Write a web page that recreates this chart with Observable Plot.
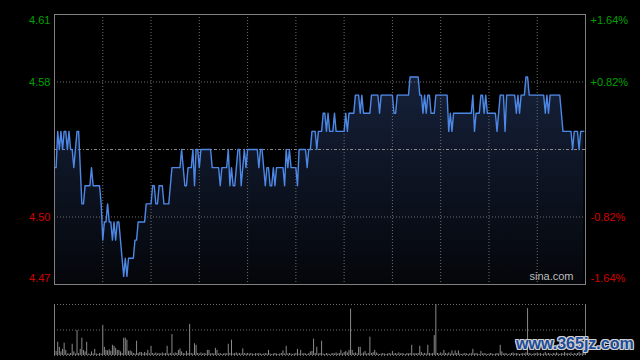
<!DOCTYPE html>
<html><head><meta charset="utf-8">
<script src="https://cdn.jsdelivr.net/npm/d3@7"></script>
<script src="https://cdn.jsdelivr.net/npm/@observablehq/plot@0.6"></script>
<style>
html,body{margin:0;padding:0;background:#000;width:640px;height:360px;overflow:hidden}
#wrap{position:relative;width:640px;height:360px;background:#000}
#wrap svg{display:block}
#wm{position:absolute;left:516px;top:335px;line-height:16px;font:bold 16px "Liberation Sans",Arial,sans-serif;color:#1d4c9a;
text-shadow:-1px -1px 0 #d0d0d0,1px -1px 0 #d0d0d0,-1px 1px 0 #d0d0d0,1px 1px 0 #d0d0d0,0 1px 0 #d0d0d0,0 -1px 0 #d0d0d0,1px 0 0 #d0d0d0,-1px 0 0 #d0d0d0;white-space:nowrap}
</style></head><body><div id="wrap"></div>
<script>
// ---- data ----
const prevClose = 4.54;
const pctLevels = [1.64, 0.82, -0.82, -1.64];
const leftLabels = ["4.61", "4.58", "4.50", "4.47"];
const rightLabels = ["+1.64%", "+0.82%", "-0.82%", "-1.64%"];
const halfHourTicks = [30, 60, 90, 120, 150, 180, 210, 240, 270, 300];
const sessionMinutes = 330;
const prices = [
4.53,4.53,4.55,4.54,4.55,4.54,4.55,4.55,4.54,4.55,
4.54,4.54,4.53,4.54,4.55,4.55,4.53,4.51,4.51,4.52,
4.52,4.52,4.52,4.53,4.52,4.52,4.52,4.52,4.52,4.51,
4.49,4.50,4.50,4.51,4.50,4.50,4.49,4.50,4.49,4.50,
4.50,4.49,4.48,4.47,4.48,4.47,4.48,4.48,4.48,4.48,
4.49,4.49,4.50,4.50,4.50,4.50,4.50,4.51,4.51,4.51,
4.51,4.52,4.52,4.51,4.51,4.52,4.52,4.52,4.51,4.51,
4.51,4.51,4.52,4.53,4.53,4.53,4.53,4.53,4.53,4.54,
4.53,4.52,4.52,4.53,4.53,4.53,4.54,4.52,4.54,4.54,
4.53,4.54,4.54,4.54,4.54,4.54,4.54,4.54,4.53,4.53,
4.53,4.53,4.53,4.52,4.53,4.53,4.53,4.53,4.54,4.52,
4.53,4.52,4.52,4.53,4.54,4.54,4.52,4.53,4.54,4.53,
4.54,4.54,4.54,4.54,4.54,4.54,4.54,4.53,4.54,4.54,
4.53,4.52,4.53,4.53,4.52,4.52,4.53,4.52,4.53,4.53,
4.53,4.53,4.53,4.52,4.54,4.53,4.54,4.53,4.53,4.53,
4.53,4.52,4.54,4.54,4.54,4.54,4.54,4.53,4.54,4.54,
4.55,4.55,4.55,4.54,4.55,4.55,4.55,4.56,4.56,4.55,
4.56,4.55,4.55,4.55,4.56,4.55,4.55,4.55,4.55,4.55,
4.55,4.56,4.55,4.56,4.56,4.56,4.56,4.57,4.57,4.57,
4.56,4.57,4.56,4.56,4.56,4.56,4.56,4.57,4.57,4.57,
4.57,4.57,4.56,4.57,4.57,4.57,4.57,4.57,4.57,4.57,
4.57,4.56,4.56,4.57,4.57,4.57,4.57,4.57,4.57,4.57,
4.57,4.58,4.58,4.58,4.58,4.58,4.58,4.57,4.57,4.56,
4.57,4.56,4.57,4.57,4.56,4.56,4.56,4.57,4.57,4.57,
4.57,4.57,4.57,4.57,4.57,4.55,4.56,4.55,4.56,4.56,
4.56,4.56,4.56,4.56,4.56,4.56,4.56,4.56,4.56,4.56,
4.57,4.55,4.56,4.56,4.56,4.57,4.57,4.56,4.57,4.56,
4.56,4.56,4.56,4.56,4.56,4.55,4.56,4.57,4.57,4.57,
4.55,4.57,4.57,4.57,4.57,4.57,4.57,4.56,4.57,4.56,
4.57,4.57,4.57,4.58,4.58,4.57,4.57,4.57,4.57,4.57,
4.57,4.57,4.57,4.57,4.57,4.56,4.57,4.56,4.57,4.57,
4.57,4.57,4.57,4.57,4.57,4.56,4.55,4.55,4.55,4.55,
4.55,4.55,4.54,4.55,4.55,4.55,4.54,4.55,4.55,4.55
];
const volumes = [
24,8,26,16,7,12,24,10,3,3,
4,22,7,3,49,4,12,34,10,7,
26,3,2,7,3,12,3,2,4,3,
59,16,10,9,11,8,20,18,14,10,
10,7,4,34,34,30,8,9,7,4,
3,28,4,6,6,3,6,4,10,3,
18,4,3,5,3,4,3,5,3,4,
18,3,4,41,3,5,4,10,13,7,
4,3,8,4,61,4,3,23,20,4,
3,5,3,4,3,10,10,3,4,3,
14,10,3,4,2,3,4,3,22,4,
30,3,4,5,3,4,3,13,4,3,
4,3,4,3,2,4,3,4,3,2,
3,4,3,10,3,2,3,4,3,2,
3,4,9,3,18,3,4,3,2,3,
4,12,3,10,3,4,3,2,4,7,
8,32,4,16,3,4,28,3,2,4,
3,2,3,4,3,5,3,4,10,3,
6,8,5,10,91,10,4,5,3,16,
16,3,5,8,3,4,36,4,6,10,
5,3,2,3,4,3,2,3,4,3,
8,3,4,3,5,3,4,3,2,4,
3,4,20,3,4,3,4,18,6,3,
4,3,20,4,3,4,39,100,4,3,
5,3,10,4,3,5,3,9,3,9,
4,9,3,2,3,4,3,2,3,4,
12,3,4,3,2,8,3,4,3,2,
3,4,3,2,3,4,3,20,7,3,
4,3,2,3,4,5,3,4,3,2,
3,4,3,5,92,4,3,2,4,3,
5,3,4,2,3,6,3,4,3,2,
4,3,5,3,2,4,3,6,3,4,
3,5,2,4,3,4,6,3,4,8
];
const volumeMax = 100;

// ---- derived ----
const lvl = p => prevClose * (1 + p / 100);
const yMax = lvl(pctLevels[0]);
const yMin = lvl(pctLevels[3]);
const green = "#00a000", red = "#d40000";
const font = "Liberation Sans, Arial, Helvetica, sans-serif";

function labelMark(i, dy) {
  const col = pctLevels[i] > 0 ? green : red;
  return [
    Plot.text([lvl(pctLevels[i])], {y: d => d, text: () => leftLabels[i], frameAnchor: "left", textAnchor: "end", dx: -4, dy, fill: col, fontSize: 11}),
    Plot.text([lvl(pctLevels[i])], {y: d => d, text: () => rightLabels[i], frameAnchor: "right", textAnchor: "start", dx: 5, dy, fill: col, fontSize: 11})
  ];
}

const main = Plot.plot({
  width: 640, height: 290,
  marginTop: 14, marginBottom: 6, marginLeft: 54, marginRight: 55,
  style: {background: "#000", fontFamily: font, fontSize: "11px", overflow: "visible"},
  x: {domain: [0, sessionMinutes], axis: null},
  y: {domain: [yMin, yMax], axis: null},
  marks: [
    Plot.areaY(prices, {x: (d, i) => i, y1: yMin, y2: d => d, fill: "url(#pxGrad)"}),
    Plot.ruleX(halfHourTicks, {stroke: "#6e6e6e", strokeDasharray: "1,2"}),
    Plot.ruleY([lvl(pctLevels[1]), lvl(pctLevels[2])], {stroke: "#6e6e6e", strokeDasharray: "1,2"}),
    Plot.ruleY([prevClose], {stroke: "#8a8a8a", strokeDasharray: "3,2,1,2"}),
    Plot.line(prices, {x: (d, i) => i, y: d => d, stroke: "#4d88e6", strokeWidth: 1.4}),
    Plot.frame({stroke: "#808080"}),
    ...labelMark(0, 6), ...labelMark(1, 0), ...labelMark(2, 0), ...labelMark(3, -6),
    Plot.text(["sina.com"], {text: d => d, frameAnchor: "bottom-right", textAnchor: "end", dx: -12, dy: -5, fill: "#bdbdbd", fontSize: 11})
  ]
});

d3.select(main).insert("defs", ":first-child").html(
  `<linearGradient id="pxGrad" gradientUnits="userSpaceOnUse" x1="0" y1="14" x2="0" y2="284">
     <stop offset="0" stop-color="#1b2948"/>
     <stop offset="1" stop-color="#04060a"/>
   </linearGradient>`);

const vol = Plot.plot({
  width: 640, height: 70,
  marginTop: 14, marginBottom: 5, marginLeft: 54, marginRight: 55,
  style: {background: "#000", overflow: "visible"},
  x: {domain: [0, sessionMinutes], axis: null},
  y: {domain: [0, volumeMax], axis: null},
  marks: [
    Plot.ruleY([0, volumeMax / 2, volumeMax], {stroke: "#6e6e6e", strokeDasharray: "1,2"}),
    Plot.ruleX(volumes, {x: (d, i) => i, y1: 0, y2: d => d, stroke: "#8a8a8a", strokeWidth: 1}),
    Plot.ruleX([0, sessionMinutes], {stroke: "#808080"})
  ]
});

const wrap = document.getElementById("wrap");
wrap.appendChild(main);
wrap.appendChild(vol);
const wm = document.createElement("div");
wm.id = "wm";
wm.textContent = "www.365jz.com";
wrap.appendChild(wm);
</script>
</body></html>
